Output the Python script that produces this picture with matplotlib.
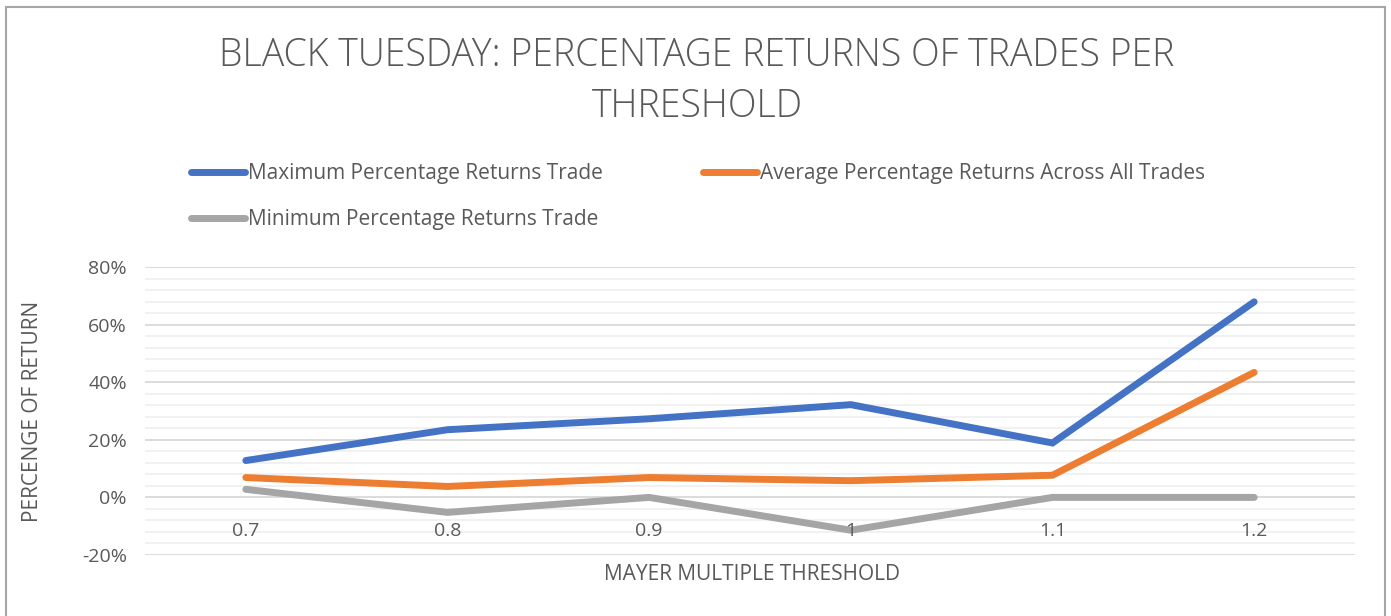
import matplotlib
matplotlib.use('Agg')
import matplotlib.pyplot as plt
from matplotlib.patches import Rectangle
from matplotlib.ticker import MultipleLocator, FuncFormatter

plt.rcParams.update({'font.family': ['Open Sans', 'DejaVu Sans']})

# data
thresholds = ['0.7', '0.8', '0.9', '1', '1.1', '1.2']
max_ret = [12.8, 23.5, 27.3, 32.2, 18.9, 67.9]
avg_ret = [6.9, 3.8, 6.9, 5.8, 7.7, 43.4]
min_ret = [2.8, -5.2, 0.0, -11.4, 0.0, 0.0]

title = 'BLACK TUESDAY: PERCENTAGE RETURNS OF TRADES PER\nTHRESHOLD'
labels = ['Maximum Percentage Returns Trade',
          'Average Percentage Returns Across All Trades',
          'Minimum Percentage Returns Trade']
colors = ['#4472C4', '#ED7D31', '#A5A5A5']
txt = '#595959'

W, H = 1391, 616
fig = plt.figure(figsize=(W/100, H/100), dpi=100)
ax = fig.add_axes([145/W, (H-555)/H, (1355-145)/W, (555-267)/H])

x = range(len(thresholds))
lines = []
for vals, c, lab in zip([max_ret, avg_ret, min_ret], colors, labels):
    l, = ax.plot(x, vals, color=c, lw=5, solid_capstyle='round',
                 solid_joinstyle='miter', label=lab, zorder=3)
    lines.append(l)

ax.set_xlim(-0.5, len(thresholds)-0.5)
ax.set_ylim(-20, 80)
ax.yaxis.set_major_locator(MultipleLocator(20))
ax.yaxis.set_minor_locator(MultipleLocator(4))
ax.yaxis.set_major_formatter(FuncFormatter(lambda v, p: '%d%%' % round(v)))
ax.grid(True, which='major', axis='y', color='#d9d9d9', lw=1.3)
ax.grid(True, which='minor', axis='y', color='#f0f0f0', lw=1.3)
ax.set_axisbelow(True)
for s in ax.spines.values():
    s.set_visible(False)
ax.set_xticks([])
ax.tick_params(axis='y', which='both', length=0, pad=13, labelsize=14, colors=txt)

# category labels sit just under the 0% line, drawn over the gridlines
for i, t in enumerate(thresholds):
    ax.annotate(t, (i, 0), xytext=(0, -24), textcoords='offset points',
                ha='center', va='center', fontsize=14, color=txt, zorder=5)

fig.text(33/W, (H-411)/H, 'PERCENGE OF RETURN', rotation=90, ha='center',
         va='center', fontsize=15, color=txt)
fig.text(752/W, (H-575)/H, 'MAYER MULTIPLE THRESHOLD', ha='center',
         va='center', fontsize=15, color=txt)
fig.text(697/W, (H-81)/H, title, ha='center', va='center', fontsize=27,
         color=txt, fontweight='light', linespacing=1.42)

fig.legend([lines[0], lines[2], lines[1]], [labels[0], labels[2], labels[1]],
           ncol=2, loc='upper left', bbox_to_anchor=(191/W, (H-163)/H),
           frameon=False, fontsize=15, handlelength=2.6, handletextpad=0.15,
           columnspacing=4.8, labelspacing=1.2, borderpad=0, borderaxespad=0,
           labelcolor=txt)

fig.patches.append(Rectangle((6.5/W, -0.01), (1385-6.5)/W, (H-7)/H + 0.01,
                             transform=fig.transFigure, fill=False,
                             edgecolor='#a6a6a6', lw=1.5))

fig.savefig('out.png', dpi=100)
